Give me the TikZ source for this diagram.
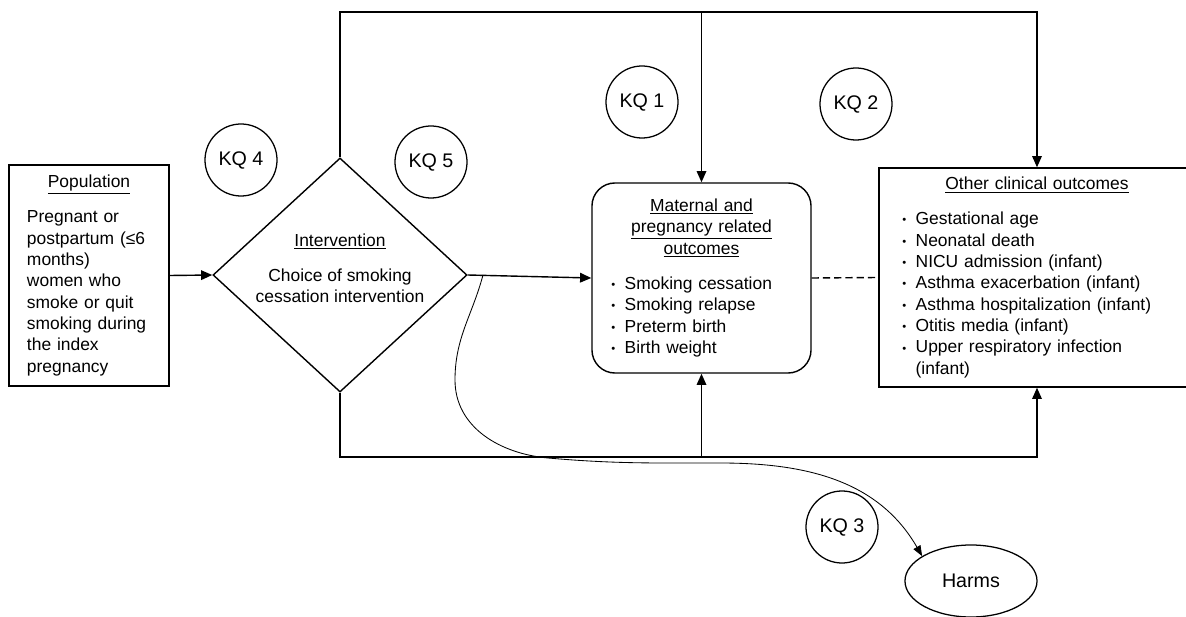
\documentclass[tikz,border=0pt]{standalone}
\usepackage{fontspec}
\setmainfont{Liberation Sans}
\usetikzlibrary{arrows.meta,shapes.geometric}
\newcommand{\bul}{\makebox[0.33cm][l]{\raisebox{0.1ex}{\footnotesize\textbullet}}}

\begin{document}
\begin{tikzpicture}[x=0.025cm,y=0.025cm,
    every node/.style={font=\fontsize{12.4}{15.2}\selectfont},
    box/.style={draw,line width=1pt,align=left,inner ysep=0pt},
    kq/.style={circle,draw,line width=0.9pt,minimum size=1.8cm,inner sep=0pt,font=\fontsize{14}{16}\selectfont},
    arr/.style={line width=1pt,-{Triangle[length=0.28cm,width=0.24cm]}},
    lin/.style={line width=1pt}]
    \useasboundingbox (0,0) rectangle (1186,-617);

    % boxes
    \node[box,text width=3.1cm,inner xsep=0.45cm,minimum height=5.525cm] (pop) at (89,-275.5) {%
        {\centering\underline{Population}\par}\vspace{0.34cm}
        Pregnant or\\ postpartum (≤6\\ months)\\ women who\\ smoke or quit\\ smoking during\\ the index\\ pregnancy};
    \node[diamond,draw,line width=1pt,minimum width=6.35cm,minimum height=5.85cm,inner sep=0pt] (int) at (340,-275) {};
    \node[align=center] (inttxt) at (340,-268) {\underline{Intervention}\\[0.34cm]Choice of smoking\\cessation intervention};
    \node[box,rounded corners=0.575cm,text width=4.5cm,inner xsep=0.4875cm,minimum height=4.75cm] (mat) at (701.5,-278) {%
        {\centering\underline{Maternal and}\\ \underline{pregnancy related}\\ \underline{outcomes}\par}\vspace{0.34cm}
        \bul Smoking cessation\\ \bul Smoking relapse\\ \bul Preterm birth\\ \bul Birth weight};
    \node[box,text width=6.925cm,inner xsep=0.4875cm,minimum height=5.475cm] (oth) at (1037,-277.5) {%
        {\centering\underline{Other clinical outcomes}\par}\vspace{0.34cm}
        \makebox[0.1cm]{}\bul Gestational age\\ \makebox[0.1cm]{}\bul Neonatal death\\
        \makebox[0.1cm]{}\bul NICU admission (infant)\\ \makebox[0.1cm]{}\bul Asthma exacerbation (infant)\\
        \makebox[0.1cm]{}\bul Asthma hospitalization (infant)\\ \makebox[0.1cm]{}\bul Otitis media (infant)\\
        \makebox[0.1cm]{}\bul Upper respiratory infection\\ \hspace*{0.43cm}(infant)};
    \node[ellipse,draw,line width=0.9pt,minimum width=3.3cm,minimum height=1.8cm,inner sep=0pt,font=\fontsize{14}{16}\selectfont] (hm) at (971,-581) {Harms};

    % key questions
    \node[kq] (kq4) at (241,-160) {KQ 4};
    \node[kq] (kq5) at (431,-162) {KQ 5};
    \node[kq] (kq1) at (642,-102) {KQ 1};
    \node[kq] (kq2) at (856,-104) {KQ 2};
    \node[kq] (kq3) at (842,-527) {KQ 3};

    \coordinate (top) at (0,-12);
    \coordinate (bot) at (0,-457);
    \coordinate (split) at (483,-275);

    \draw[arr] (pop.east) -- (int.west);
    \draw[arr] (int.east) -- (mat.west);
    \draw[lin,dashed,dash pattern=on 5pt off 3pt] (mat.east) -- (oth.west);
    \draw[arr] (int.north) -- (int.north |- top) -| (oth.north);
    \draw[arr] (mat.north |- top) -- (mat.north);
    \draw[arr] (int.south) -- (int.south |- bot) -| (oth.south);
    \draw[arr] (mat.south |- bot) -- (mat.south);
    \draw[line width=0.6pt,-{Triangle[length=0.26cm,width=0.2cm]}] (split) to[out=-105,in=90] (455,-380)
        to[out=-90,in=175] (548,-458) to[out=-5,in=180] (720,-463) to[out=0,in=120] (hm.153);
\end{tikzpicture}
\end{document}
